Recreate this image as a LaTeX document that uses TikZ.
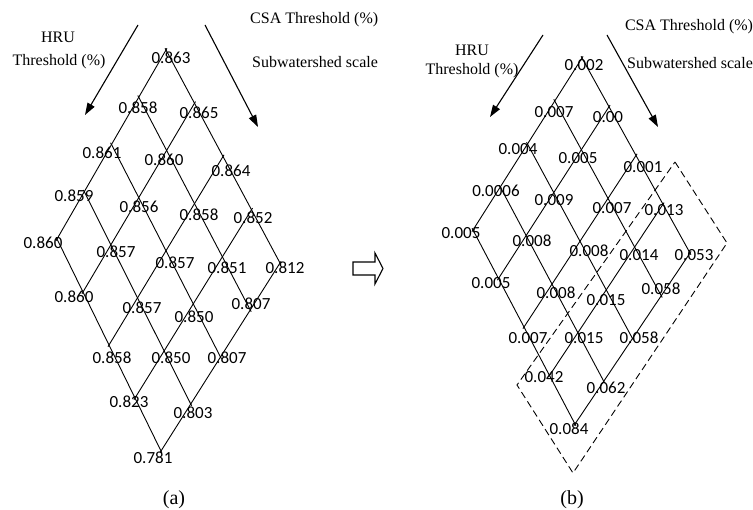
\documentclass[tikz,border=0pt]{standalone}
\usepackage{fontspec}
\setmainfont{Liberation Serif}
\newfontfamily\numfont{Carlito}
\usetikzlibrary{calc,arrows.meta}

\tikzset{
  gridline/.style={line width=0.9pt, shorten <=-2pt, shorten >=-2pt},
  val/.style={inner sep=0pt, font=\numfont\fontsize{17}{17}\selectfont},
  caption/.style={inner sep=0pt, font=\fontsize{16}{16}\selectfont},
  panel/.style={inner sep=0pt, font=\fontsize{20}{20}\selectfont},
  dirarrow/.style={line width=1.1pt, -{Triangle[length=12pt,width=8pt]}},
  region/.style={line width=0.9pt, dash pattern=on 7pt off 4pt},
  hollow/.style={line width=1.1pt, line join=miter}
}

\begin{document}
\begin{tikzpicture}[x=1pt,y=-1pt]
\useasboundingbox (0,0) rectangle (753,510);

% ---------------- panel (a) ----------------
\coordinate (aT) at (166,50);
\coordinate (aL) at (57,239);
\coordinate (aR) at (280,263);
\coordinate (aB) at (161,451);
\foreach \k in {0,...,4}{
  \draw[gridline] ($(aT)!{\k/4}!(aL)$) -- ($(aR)!{\k/4}!(aB)$);
  \draw[gridline] ($(aT)!{\k/4}!(aR)$) -- ($(aL)!{\k/4}!(aB)$);
}
\foreach \n/\x/\y/\t in {
  a00/171/58/0.863,
  a10/138/108/0.858, a01/199/113/0.865,
  a20/102/153/0.861, a11/164/160/0.860, a02/231/171/0.864,
  a30/74/196/0.859, a21/139/207/0.856, a12/199/215/0.858, a03/253/218/0.852,
  a40/43/243/0.860, a31/116/252/0.857, a22/175/263/0.857, a13/227/268/0.851, a04/285/268/0.812,
  a41/74/297/0.860, a32/142/308/0.857, a23/194/317/0.850, a14/251/304/0.807,
  a42/112/358/0.858, a33/171/358/0.850, a24/227/358/0.807,
  a43/129/402/0.823, a34/193/413/0.803,
  a44/153/458/0.781}
  \node[val] (\n) at (\x,\y) {\t};

\node[caption] (aHRU) at (58,37) {HRU};
\node[caption] (aHRUt) at (59,62) {Threshold (\%)};
\node[caption, anchor=west] (aCSA) at (250,20) {CSA Threshold (\%)};
\node[caption, anchor=west] (aSub) at (252,62) {Subwatershed scale};
\coordinate (aA1s) at (138,25); \coordinate (aA1e) at (85,115);
\coordinate (aA2s) at (205,25); \coordinate (aA2e) at (258,127);
\draw[dirarrow] (aA1s) -- (aA1e);
\draw[dirarrow] (aA2s) -- (aA2e);
\node[panel] (capA) at (174,500) {(a)};

% ---------------- transition arrow ----------------
\draw[hollow] (353,262) -- (375,262) -- (375,253) -- (383,268.5)
  -- (375,284) -- (375,275) -- (353,275) -- cycle;

% ---------------- panel (b) ----------------
\coordinate (bT) at (582,58);
\coordinate (bL) at (473,230);
\coordinate (bR) at (690,253);
\coordinate (bB) at (575,424);
\foreach \k in {0,...,4}{
  \draw[gridline] ($(bT)!{\k/4}!(bL)$) -- ($(bR)!{\k/4}!(bB)$);
  \draw[gridline] ($(bT)!{\k/4}!(bR)$) -- ($(bL)!{\k/4}!(bB)$);
}
% dashed outline of the highlighted block
\coordinate (dT) at (675,162);
\coordinate (dR) at (727,243);
\coordinate (dB) at (573,473);
\coordinate (dL) at (517,385);
\draw[region] (dT) -- (dR) -- (dB) -- (dL) -- cycle;

\foreach \n/\x/\y/\t in {
  b00/584/65/0.002,
  b10/554/112/0.007, b01/608/117/0.00,
  b20/518/149/0.004, b11/578/158/0.005, b02/643/167/0.001,
  b30/496/191/0.0006, b21/554/200/0.009, b12/612/208/0.007, b03/664/210/0.013,
  b40/461/233/0.005, b31/532/241/0.008, b22/589/251/0.008, b13/639/255/0.014, b04/694/255/0.053,
  b41/491/283/0.005, b32/556/293/0.008, b23/606/300/0.015, b14/661/289/0.058,
  b42/528/338/0.007, b33/584/338/0.015, b24/639/338/0.058,
  b43/544/377/0.042, b34/606/388/0.062,
  b44/569/429/0.084}
  \node[val] (\n) at (\x,\y) {\t};

\node[caption] (bHRU) at (472,50) {HRU};
\node[caption] (bHRUt) at (472,71) {Threshold (\%)};
\node[caption] (bCSA) at (689,27) {CSA Threshold (\%)};
\node[caption] (bSub) at (690,63) {Subwatershed scale};
\coordinate (bA1s) at (543,35); \coordinate (bA1e) at (490,117);
\coordinate (bA2s) at (607,35); \coordinate (bA2e) at (658,127);
\draw[dirarrow] (bA1s) -- (bA1e);
\draw[dirarrow] (bA2s) -- (bA2e);
\node[panel] (capB) at (572,500) {(b)};
\end{tikzpicture}
\end{document}
